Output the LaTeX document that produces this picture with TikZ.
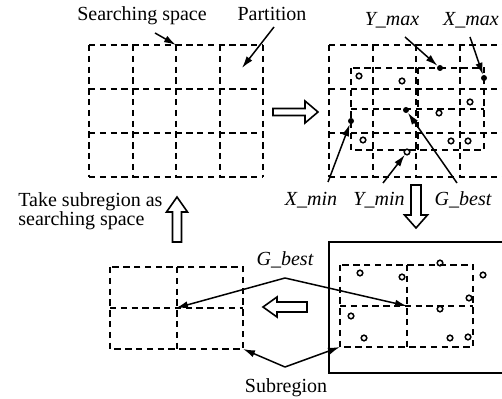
\documentclass[tikz,border=0pt]{standalone}
\usepackage{fontspec}
\setmainfont{Liberation Serif}
\usetikzlibrary{arrows.meta}

\tikzset{
  gridline/.style={line width=1pt, dash pattern=on 3.2pt off 2.2pt},
  pointer/.style={line width=0.75pt, -{Latex[length=6pt,width=3.6pt]}},
  bigarrow/.style={line width=0.8pt, fill=white, line join=miter},
  sample/.style={circle, draw, line width=0.75pt, inner sep=0pt, minimum size=2.8pt},
  extreme/.style={circle, fill, inner sep=0pt, minimum size=3pt},
  lbl/.style={anchor=base, inner sep=0pt, font=\fontsize{10}{10}\selectfont},
  var/.style={lbl, font=\fontsize{10}{10}\selectfont\itshape},
}

\begin{document}
\begin{tikzpicture}[x=0.5pt, y=-0.5pt]
\useasboundingbox (0,0) rectangle (502,399);

% searching space and its partition
\foreach \dx in {0,240} {
  \foreach \k in {0,...,4}
    \draw[gridline] ({89+\dx+43.5*\k},45) -- ({89+\dx+43.5*\k},177);
  \foreach \k in {0,...,3}
    \draw[gridline] ({89+\dx},{45+44*\k}) -- ({263+\dx},{45+44*\k});
}

% subregions
\foreach \x/\y in {351/68, 110/267, 340/265} {
  \draw[gridline] (\x,\y) rectangle ++(133,82);
  \draw[gridline] ({\x+66.5},\y) -- ++(0,82);
  \draw[gridline] (\x,{\y+41}) -- ++(133,0);
}
\draw[line width=1pt] (329,242) rectangle (508,373);

% particles
\node[extreme] (ymaxp) at (440,68) {};
\node[extreme] (xmaxp) at (484,78) {};
\node[extreme] (xminp) at (351,121) {};
\node[sample]  (yminp) at (407,152) {};
\node[extreme] (gbestp) at (406,110) {};
\foreach \x/\y in {359/76, 402/81, 470/102, 439/113, 363/140, 451/141, 468/141,
                   360/273, 402/277, 440/263, 483/275, 469/298, 440/309,
                   351/316, 364/338, 450/338, 468/337}
  \node[sample] at (\x,\y) {};

% labels
\node[lbl] (searching) at (142,21) {Searching space};
\node[lbl] (partition) at (272,21) {Partition};
\node[var] (ymax) at (392,26) {Y\_max};
\node[var] (xmax) at (471,26) {X\_max};
\node[var] (xmin) at (311,206) {X\_min};
\node[var] (ymin) at (379,206) {Y\_min};
\node[var] (gbest) at (463,206) {G\_best};
\node[var] (gbestsub) at (285,266) {G\_best};
\node[lbl] (subregion) at (286,393) {Subregion};
\node[lbl, anchor=base west, align=left, font=\fontsize{10}{9.5}\selectfont]
  (take) at (18,226) {Take subregion as\\searching space};

% connectors
\coordinate (s1) at (155,33);
\coordinate (spacetop) at (176,45);
\coordinate (p1) at (274,27);
\coordinate (cell) at (242,68);
\coordinate (ym1) at (405,37);
\coordinate (xm1) at (470,37);
\coordinate (xn1) at (328,182);
\coordinate (yn1) at (383,183);
\coordinate (gb1) at (457,183);
\coordinate (gbv) at (285,278);
\coordinate (sv) at (285,367);
\coordinate (leftc) at (176,308);
\coordinate (rightc) at (407,306);
\coordinate (leftcorner) at (243,349);
\coordinate (rightcorner) at (340,347);

\draw[pointer] (s1) -- (spacetop);
\draw[pointer] (p1) -- (cell);
\draw[pointer] (ym1) -- (ymaxp);
\draw[pointer] (xm1) -- (xmaxp);
\draw[pointer] (xn1) -- (xminp);
\draw[pointer] (yn1) -- (yminp);
\draw[pointer] (gb1) -- (gbestp);
\draw[pointer] (gbv) -- (leftc);
\draw[pointer] (gbv) -- (rightc);
\draw[pointer] (sv) -- (leftcorner);
\draw[pointer] (sv) -- (rightcorner);

% hollow arrows
\draw[bigarrow] (273,108.5) -- (305,108.5) -- (305,101) -- (318,112)
  -- (305,123) -- (305,115.5) -- (273,115.5) -- cycle;
\draw[bigarrow] (411,185) -- (421,185) -- (421,215) -- (427.5,215)
  -- (416,228) -- (404.5,215) -- (411,215) -- cycle;
\draw[bigarrow] (307,302) -- (277,302) -- (277,297) -- (263,307)
  -- (277,317) -- (277,312) -- (307,312) -- cycle;
\draw[bigarrow] (172.5,242) -- (181.5,242) -- (181.5,212) -- (187.5,212)
  -- (177,197) -- (166.5,212) -- (172.5,212) -- cycle;
\end{tikzpicture}
\end{document}
